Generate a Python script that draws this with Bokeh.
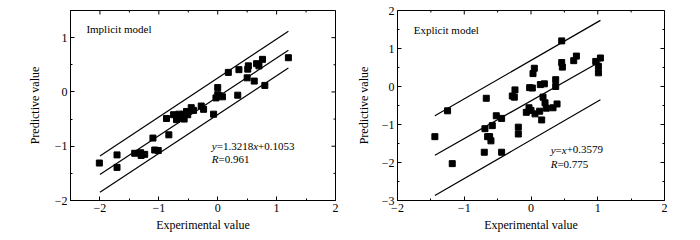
import math
from bokeh.plotting import figure
from bokeh.layouts import row
from bokeh.models import FixedTicker, CustomJSTickFormatter, Range1d
from bokeh.embed import file_html
from bokeh.resources import INLINE
from bokeh.core.properties import value

FONT = "Liberation Serif"

# ---------------- Implicit model data ----------------
imp_x = [-2.01, -1.71, -1.71, -1.41, -1.31, -1.30, -1.24, -1.10, -1.07, -1.01,
         -0.87, -0.83, -0.75, -0.70, -0.66, -0.62, -0.58, -0.57, -0.53, -0.51,
         -0.45, -0.41, -0.28, -0.24, -0.07, -0.03, 0.00, 0.00, 0.03, 0.08,
         0.18, 0.34, 0.36, 0.50, 0.51, 0.52, 0.62, 0.66, 0.70, 0.76, 0.80, 1.20]
imp_y = [-1.31, -1.16, -1.39, -1.13, -1.12, -1.17, -1.15, -0.85, -1.07, -1.08,
         -0.49, -0.79, -0.42, -0.51, -0.41, -0.47, -0.41, -0.50, -0.36, -0.42,
         -0.29, -0.34, -0.26, -0.32, -0.41, -0.11, 0.08, -0.05, -0.07, -0.09,
         0.36, -0.06, 0.41, 0.26, 0.42, 0.48, 0.20, 0.52, 0.48, 0.60, 0.12, 0.63]
imp_line_x = [-2.0, 1.2]
imp_mid = [-1.52, 0.77]
imp_up = [-1.18, 1.12]
imp_lo = [-1.85, 0.44]

# ---------------- Explicit model data ----------------
exp_x = [-1.44, -1.25, -1.18, -0.69, -0.70, -0.67, -0.65, -0.62, -0.60, -0.58,
         -0.52, -0.44, -0.44, -0.28, -0.25, -0.24, -0.19, -0.19, -0.07, -0.03,
         -0.02, 0.00, 0.02, 0.03, 0.05, 0.06, 0.13, 0.14, 0.16, 0.18,
         0.20, 0.21, 0.23, 0.33, 0.37, 0.37, 0.39, 0.46, 0.46, 0.47,
         0.64, 0.68, 0.97, 1.01, 1.01, 1.04]
exp_y = [-1.32, -0.64, -2.03, -1.11, -1.73, -0.31, -1.32, -1.32, -1.43, -1.03,
         -0.77, -0.84, -1.73, -0.25, -0.28, -0.09, -1.07, -1.25, -0.68, -0.56,
         -0.03, -0.63, -0.04, 0.34, 0.48, -0.72, -0.65, 0.05, -0.88, -0.28,
         0.07, -0.43, -0.57, -0.56, 0.18, 0.00, -0.46, 1.20, 0.63, 0.51,
         0.68, 0.80, 0.66, 0.53, 0.36, 0.75]
exp_line_x = [-1.44, 1.04]
exp_mid = [-1.81, 0.66]
exp_up = [-0.77, 1.74]
exp_lo = [-2.87, -0.35]

# tick definitions
imp_xticks = [-2, -1, 0, 1, 2]
imp_yticks = [-2, -1, 0, 1]
exp_xticks = [-2, -1, 0, 1, 2]
exp_yticks = [-3, -2, -1, 0, 1, 2]

IT_W = {"x": 0.444, "y": 0.444, "R": 0.611}
N_W = {".": 0.25, "=": 0.564, "+": 0.564, "R": 0.667, "x": 0.5, "y": 0.5, " ": 0.25}


def text_width(s, italic, size):
    tot = 0.0
    for ch in s:
        tot += (IT_W if italic else N_W).get(ch, 0.5)
    return tot * size


def rich_text(p, x, y, segments, size=11):
    off = 0.0
    for s, italic in segments:
        p.text(x=[x], y=[y], text=[s], x_offset=off,
               text_font=value(FONT), text_font_size=f"{size}px",
               text_font_style="italic" if italic else "normal",
               text_baseline="middle", text_align="left", text_color="black")
        off += text_width(s, italic, size)


fmt = CustomJSTickFormatter(code="""
    return tick < 0 ? "\\u2212" + Math.abs(tick).toString() : tick.toString();
""")


def minor_list(lo, hi, major):
    out = []
    v = lo
    while v <= hi + 1e-9:
        r = round(v, 2)
        if r not in major:
            out.append(r)
        v += 0.5
    return out


def style_axis(ax):
    ax.axis_line_color = "black"
    ax.axis_line_width = 1
    ax.major_tick_in = 4
    ax.major_tick_out = 0
    ax.minor_tick_in = 2
    ax.minor_tick_out = 0
    ax.major_tick_line_color = "black"
    ax.minor_tick_line_color = "black"
    ax.major_label_text_font = FONT
    ax.major_label_text_font_size = "12px"
    ax.major_label_text_color = "black"
    ax.major_label_standoff = 3
    ax.axis_label_text_font = FONT
    ax.axis_label_text_font_size = "12px"
    ax.axis_label_text_font_style = "normal"
    ax.axis_label_text_color = "black"


def make_fig(xr, yr, xticks, yticks, ml, mr, ylab_standoff):
    p = figure(width=ml + 265 + mr, height=240, output_backend="svg",
               toolbar_location=None, x_range=Range1d(*xr), y_range=Range1d(*yr),
               min_border_left=ml, min_border_right=mr,
               min_border_top=10, min_border_bottom=40)
    p.xgrid.visible = False
    p.ygrid.visible = False
    p.outline_line_color = "black"
    p.background_fill_color = "white"
    p.border_fill_color = "white"
    xminor = minor_list(xr[0], xr[1], xticks)
    yminor = minor_list(yr[0], yr[1], yticks)
    p.xaxis.ticker = FixedTicker(ticks=xticks, minor_ticks=xminor)
    p.yaxis.ticker = FixedTicker(ticks=yticks, minor_ticks=yminor)
    p.xaxis.formatter = fmt
    p.yaxis.formatter = fmt
    p.xaxis.axis_label = "Experimental value"
    p.yaxis.axis_label = "Predictive value"
    for ax in p.xaxis + p.yaxis:
        style_axis(ax)
    p.xaxis.axis_label_standoff = 3
    p.yaxis.axis_label_standoff = ylab_standoff
    # mirrored inward ticks on top and right edges (clipped to the frame)
    p.scatter(x=xticks, y=[yr[1]] * len(xticks), marker="dash", size=8,
              angle=math.pi / 2, line_color="black", line_width=1)
    p.scatter(x=xminor, y=[yr[1]] * len(xminor), marker="dash", size=4,
              angle=math.pi / 2, line_color="black", line_width=1)
    p.scatter(x=[xr[1]] * len(yticks), y=yticks, marker="dash", size=8,
              line_color="black", line_width=1)
    p.scatter(x=[xr[1]] * len(yminor), y=yminor, marker="dash", size=4,
              line_color="black", line_width=1)
    return p


# ---------------- Left figure ----------------
p1 = make_fig((-2.5, 2.0), (-2.0, 1.5), imp_xticks, imp_yticks, 70, 15, 10)
p1.scatter(imp_x, imp_y, marker="square", size=6, color="black")
for ys in (imp_up, imp_mid, imp_lo):
    p1.line(imp_line_x, ys, line_color="black", line_width=1.2)
p1.text(x=[-2.23], y=[1.155], text=["Implicit model"], text_font=value(FONT),
        text_font_size="11px", text_baseline="middle", text_color="black")
rich_text(p1, -0.10, -1.0, [("y", True), ("=1.3218", False), ("x", True), ("+0.1053", False)])
rich_text(p1, -0.10, -1.24, [("R", True), ("=0.961", False)])

# ---------------- Right figure ----------------
p2 = make_fig((-2.0, 2.0), (-3.0, 2.0), exp_xticks, exp_yticks, 47, 36, 8)
p2.frame_width = 267
p2.width = 350
p2.scatter(exp_x, exp_y, marker="square", size=6, color="black")
for ys in (exp_up, exp_mid, exp_lo):
    p2.line(exp_line_x, ys, line_color="black", line_width=1.2)
p2.text(x=[-1.756], y=[1.5], text=["Explicit model"], text_font=value(FONT),
        text_font_size="11px", text_baseline="middle", text_color="black")
rich_text(p2, 0.295, -1.66, [("y", True), ("=", False), ("x", True), ("+0.3579", False)])
rich_text(p2, 0.295, -2.05, [("R", True), ("=0.775", False)])

layout = row(p1, p2)
open("out.html", "w").write(file_html(layout, INLINE))
